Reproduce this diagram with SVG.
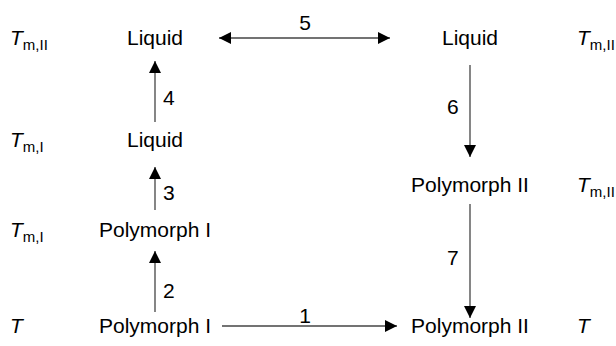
<svg xmlns="http://www.w3.org/2000/svg" width="616" height="346" viewBox="0 0 616 346">
<defs>
<marker id="ah" viewBox="0 0 12 12" refX="12" refY="6" markerWidth="12" markerHeight="12" markerUnits="userSpaceOnUse" orient="auto-start-reverse">
<path d="M0,0 L12,6 L0,12 Z" fill="#000"/>
</marker>
<style>
text{font-family:"Liberation Sans",Arial,sans-serif;font-size:21px;fill:#000}
.n{text-anchor:middle}
.t{font-style:italic}
.s{font-size:15px}
.c{stroke:#444;stroke-width:1.3;fill:none}
</style>
</defs>
<rect width="616" height="346" fill="#fff"/>
<g id="labels">
<text x="10" y="45"><tspan class="t">T</tspan><tspan class="s" dy="5">m,II</tspan></text>
<text x="10" y="147"><tspan class="t">T</tspan><tspan class="s" dy="5">m,I</tspan></text>
<text x="10" y="237"><tspan class="t">T</tspan><tspan class="s" dy="5">m,I</tspan></text>
<text x="10" y="333" class="t">T</text>
<text x="577" y="45"><tspan class="t">T</tspan><tspan class="s" dy="5">m,II</tspan></text>
<text x="577" y="192"><tspan class="t">T</tspan><tspan class="s" dy="5">m,II</tspan></text>
<text x="577" y="333" class="t">T</text>
</g>
<g id="n-liquid-tl"><text class="n" x="155" y="45">Liquid</text></g>
<g id="n-liquid-ml"><text class="n" x="155" y="147">Liquid</text></g>
<g id="n-poly1-m"><text class="n" x="155" y="237">Polymorph I</text></g>
<g id="n-poly1-b"><text class="n" x="155" y="333">Polymorph I</text></g>
<g id="n-liquid-tr"><text class="n" x="470" y="45">Liquid</text></g>
<g id="n-poly2-m"><text class="n" x="470" y="192">Polymorph II</text></g>
<g id="n-poly2-b"><text class="n" x="470" y="333">Polymorph II</text></g>
<g id="connectors">
<line class="c" x1="222" y1="326" x2="397" y2="326" marker-end="url(#ah)"/>
<line class="c" x1="155" y1="312" x2="155" y2="251" marker-end="url(#ah)"/>
<line class="c" x1="155" y1="210" x2="155" y2="167" marker-end="url(#ah)"/>
<line class="c" x1="155" y1="122" x2="155" y2="61" marker-end="url(#ah)"/>
<line class="c" x1="219" y1="38" x2="390" y2="38" marker-start="url(#ah)" marker-end="url(#ah)"/>
<line class="c" x1="470" y1="65" x2="470" y2="157" marker-end="url(#ah)"/>
<line class="c" x1="470" y1="204" x2="470" y2="318" marker-end="url(#ah)"/>
</g>
<g id="edge-labels">
<text x="163" y="105">4</text>
<text x="163" y="200">3</text>
<text x="163" y="298">2</text>
<text class="n" x="305" y="323">1</text>
<text class="n" x="305" y="30">5</text>
<text x="447" y="114">6</text>
<text x="447" y="265">7</text>
</g>
</svg>
